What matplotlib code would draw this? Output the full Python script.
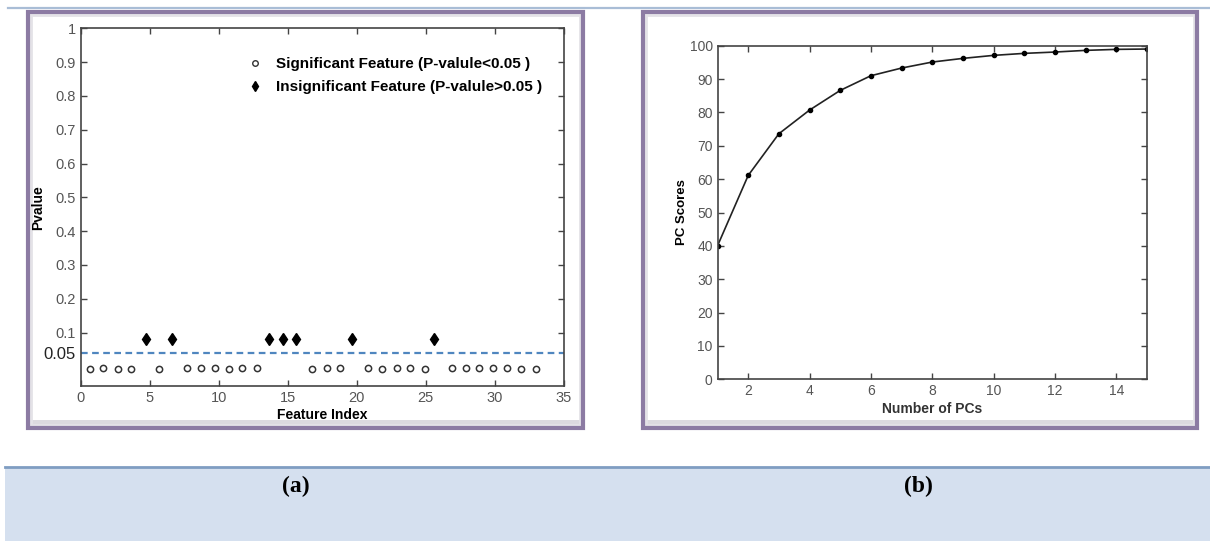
import numpy as np
import matplotlib
matplotlib.use("Agg")
import matplotlib.pyplot as plt
from matplotlib.patches import Rectangle
from matplotlib.lines import Line2D

plt.rcParams["font.family"] = ["Liberation Sans", "DejaVu Sans"]

# (a) p-value of each feature, x position
feature_x = [0.69, 1.65, 2.69, 3.66, 4.72, 5.71, 6.63, 7.73, 8.73, 9.76, 10.75,
             11.72, 12.8, 13.63, 14.66, 15.63, 16.78, 17.83, 18.79, 19.68, 20.84,
             21.83, 22.9, 23.86, 24.94, 25.6, 26.88, 27.89, 28.88, 29.89, 30.9,
             31.9, 32.96]
pvalues = [-0.008, -0.006, -0.007, -0.007, 0.08, -0.008, 0.08, -0.005, -0.005,
           -0.005, -0.008, -0.005, -0.005, 0.08, 0.08, 0.08, -0.009, -0.005,
           -0.005, 0.08, -0.005, -0.009, -0.005, -0.005, -0.008, 0.08, -0.005,
           -0.005, -0.005, -0.005, -0.005, -0.008, -0.008]
threshold_pos = 0.04   # where the dashed line is drawn
threshold_label = "0.05"
ytick_vals = [0.1, 0.2, 0.3, 0.4, 0.5, 0.6, 0.7, 0.8, 0.9, 1.0]
ytick_labels = ["0.1", "0.2", "0.3", "0.4", "0.5", "0.6", "0.7", "0.8", "0.9", "1"]
xtick_vals_a = [0, 5, 10, 15, 20, 25, 30, 35]

# (b) cumulative PC scores
n_pcs = np.arange(1, 16)
pc_scores = [40, 61.1, 73.6, 80.7, 86.6, 91.0, 93.3, 95.1, 96.2, 97.1, 97.7,
             98.1, 98.6, 98.9, 99.0]

W, H = 1210, 541
fig = plt.figure(figsize=(W / 100, H / 100), dpi=100)

def fx(px):
    return px / W

def fy(py):
    return 1 - py / H

# page decorations
fig.add_artist(Line2D([fx(8), fx(1210)], [fy(8), fy(8)], color="#a9bdd6", lw=1.6, zorder=-5))
fig.add_artist(Rectangle((fx(5), 0), fx(1210) - fx(5), fy(467), transform=fig.transFigure,
                         facecolor="#d5e0ef", edgecolor="none", zorder=-5))
fig.add_artist(Line2D([fx(5), fx(1210)], [fy(467), fy(467)], color="#7f9dc2", lw=2, zorder=-5))

for x0, x1 in [(28, 583), (643, 1197)]:
    # soft grey shadow along the bottom inside the frame
    fig.add_artist(Rectangle((fx(x0 + 2), fy(426)), fx(x1 - x0 - 4), fy(420) - fy(426),
                             transform=fig.transFigure, facecolor="#dcdadf",
                             edgecolor="none", zorder=-4))
    fig.add_artist(Rectangle((fx(x0 + 3), fy(425)), fx(x1 - x0 - 6), fy(15) - fy(425),
                             transform=fig.transFigure, facecolor="none",
                             edgecolor="#e4e2e7", lw=2, zorder=-4))
    fig.add_artist(Rectangle((fx(x0), fy(428)), fx(x1 - x0), fy(12) - fy(428),
                             transform=fig.transFigure, facecolor="none",
                             edgecolor="#8c7ba3", lw=3, zorder=-3))

fig.text(fx(296), fy(486), "(a)", family="Liberation Serif", weight="bold",
         fontsize=17, ha="center", va="center")
fig.text(fx(918), fy(486), "(b)", family="Liberation Serif", weight="bold",
         fontsize=17, ha="center", va="center")

tick_color = "#555555"
axis_color = "#444444"

# ---- panel (a)
ax1 = fig.add_axes([fx(80.5), fy(386), fx(564) - fx(80.5), fy(28.3) - fy(386)])
pv = np.array(pvalues)
fxs = np.array(feature_x)
sig = pv < threshold_pos
ax1.plot(fxs[sig], pv[sig], "o", ms=4.5, mfc="white", mec="#333333", mew=1.1, ls="none")
ax1.plot(fxs[~sig], pv[~sig], "d", ms=6, color="black", ls="none")
ax1.axhline(threshold_pos, color="#4f86bf", ls=(0, (3, 2)), lw=1.6)
ax1.set_xlim(0, 35)
ax1.set_ylim(-0.058, 1.0)
ax1.set_xticks(xtick_vals_a)
ax1.set_yticks([threshold_pos] + ytick_vals)
ax1.set_yticklabels([threshold_label] + ytick_labels)
ax1.tick_params(direction="in", top=True, right=True, length=4, width=1,
                colors=axis_color, labelcolor=tick_color, labelsize=10.5)
lbl = ax1.get_yticklabels()[0]
lbl.set_color("#222222")
lbl.set_fontsize(12)
ax1.yaxis.get_major_ticks()[0].tick1line.set_visible(False)
ax1.yaxis.get_major_ticks()[0].tick2line.set_visible(False)
for s in ax1.spines.values():
    s.set_color(axis_color)
    s.set_linewidth(1.2)
ax1.set_xlabel("Feature Index", fontsize=10, weight="bold", labelpad=2)
ax1.set_ylabel("Pvalue", fontsize=10, weight="bold", labelpad=-1)

leg_handles = [
    Line2D([], [], marker="o", ms=4, mfc="white", mec="#333333", ls="none"),
    Line2D([], [], marker="d", ms=5, color="black", ls="none"),
]
ax1.legend(leg_handles,
           ["Significant Feature (P-valule<0.05 )", "Insignificant Feature (P-valule>0.05 )"],
           loc="upper right", bbox_to_anchor=(0.983, 0.958), frameon=False,
           handletextpad=0.75, labelspacing=0.58, handlelength=1.2,
           prop={"family": ["Liberation Sans Narrow", "Liberation Sans"],
                 "weight": "bold", "size": 11})

# ---- panel (b)
ax2 = fig.add_axes([fx(717.5), fy(379.3), fx(1147) - fx(717.5), fy(45.7) - fy(379.3)])
ax2.plot(n_pcs, pc_scores, color="#222222", lw=1.2, marker=".", ms=6,
         mfc="black", mec="black")
ax2.set_xlim(1, 15)
ax2.set_ylim(0, 100)
ax2.set_xticks(np.arange(2, 15, 2))
ax2.set_yticks(np.arange(0, 101, 10))
ax2.tick_params(direction="in", top=True, right=True, length=4, width=1,
                colors=axis_color, labelcolor=tick_color, labelsize=10)
for s in ax2.spines.values():
    s.set_color(axis_color)
    s.set_linewidth(1.2)
ax2.set_xlabel("Number of PCs", fontsize=10, weight="bold", color="#333333", labelpad=3)
ax2.set_ylabel("PC Scores", fontsize=9.5, weight="bold", labelpad=1)

fig.savefig("out.png", dpi=100)
